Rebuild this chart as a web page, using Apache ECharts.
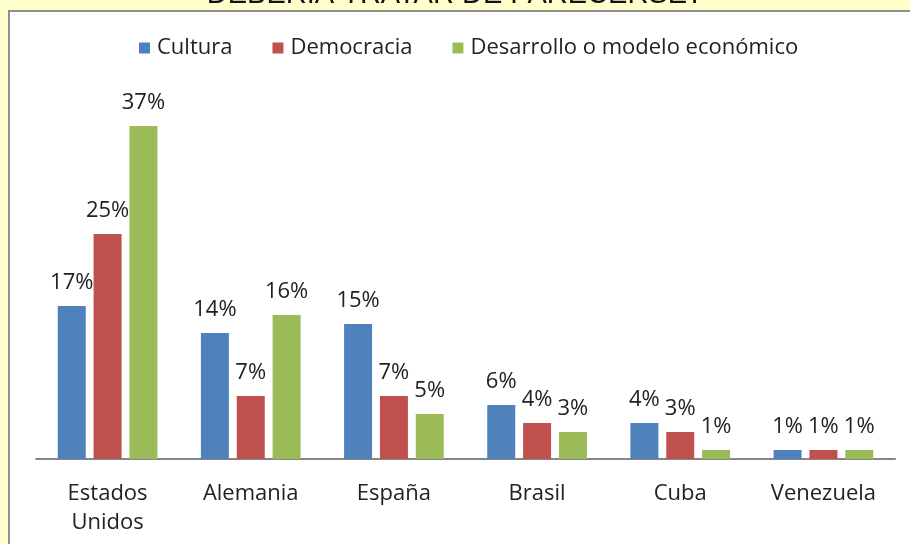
<!DOCTYPE html>
<html>
<head>
<meta charset="utf-8">
<script src="https://cdn.jsdelivr.net/npm/echarts@6/dist/echarts.min.js"></script>
<style>
html,body{margin:0;padding:0;background:#FFFFCC;}
#chart{width:910px;height:544px;}
</style>
</head>
<body>
<div id="chart"></div>
<script>
var categories = ['Estados\nUnidos', 'Alemania', 'España', 'Brasil', 'Cuba', 'Venezuela'];
var seriesNames = ['Cultura', 'Democracia', 'Desarrollo o modelo económico'];
var cultura = [17, 14, 15, 6, 4, 1];
var democracia = [25, 7, 7, 4, 3, 1];
var desarrollo = [37, 16, 5, 3, 1, 1];
var colors = ['#4F81BD', '#C0504D', '#9BBB59'];
var titleText = 'DEBERÍA TRATAR DE PARECERSE?';

var FONT = '"Open Sans", sans-serif';
var chart = echarts.init(document.getElementById('chart'));

function mk(name, data, color) {
  return {
    name: name,
    type: 'bar',
    data: data,
    barWidth: 28,
    barGap: '28%',
    itemStyle: { color: color },
    label: {
      show: true,
      position: 'top',
      distance: 12,
      formatter: '{c}%',
      fontFamily: FONT,
      fontSize: 22,
      color: '#222'
    }
  };
}

chart.setOption({
  backgroundColor: '#FFFFCC',
  animation: false,
  graphic: [
    {
      type: 'rect',
      z: -10,
      shape: { x: 9, y: 11, width: 920, height: 560 },
      style: { fill: '#ffffff', stroke: '#8F8F8F', lineWidth: 2 }
    },
    {
      type: 'text',
      z: -20,
      left: 'center',
      top: -20,
      style: {
        text: titleText,
        font: '29px "Liberation Sans", Arial, sans-serif',
        fill: '#111'
      }
    }
  ],
  legend: {
    top: 37,
    left: 139,
    padding: 0,
    itemWidth: 11,
    itemHeight: 11,
    itemGap: 40,
    icon: 'rect',
    textStyle: { fontFamily: FONT, fontSize: 22, color: '#222', padding: [0, 0, 0, 2] },
    data: seriesNames
  },
  grid: { left: 36, right: 15, top: 99, bottom: 85 },
  xAxis: {
    type: 'category',
    data: categories,
    axisLine: { lineStyle: { color: '#868686', width: 2 } },
    axisTick: { show: false },
    axisLabel: {
      fontFamily: FONT,
      fontSize: 22,
      color: '#222',
      margin: 20,
      lineHeight: 29,
      interval: 0
    }
  },
  yAxis: {
    type: 'value',
    min: 0,
    max: 40,
    show: false,
    splitLine: { show: false }
  },
  series: [
    mk(seriesNames[0], cultura, colors[0]),
    mk(seriesNames[1], democracia, colors[1]),
    mk(seriesNames[2], desarrollo, colors[2])
  ]
});
</script>
</body>
</html>
